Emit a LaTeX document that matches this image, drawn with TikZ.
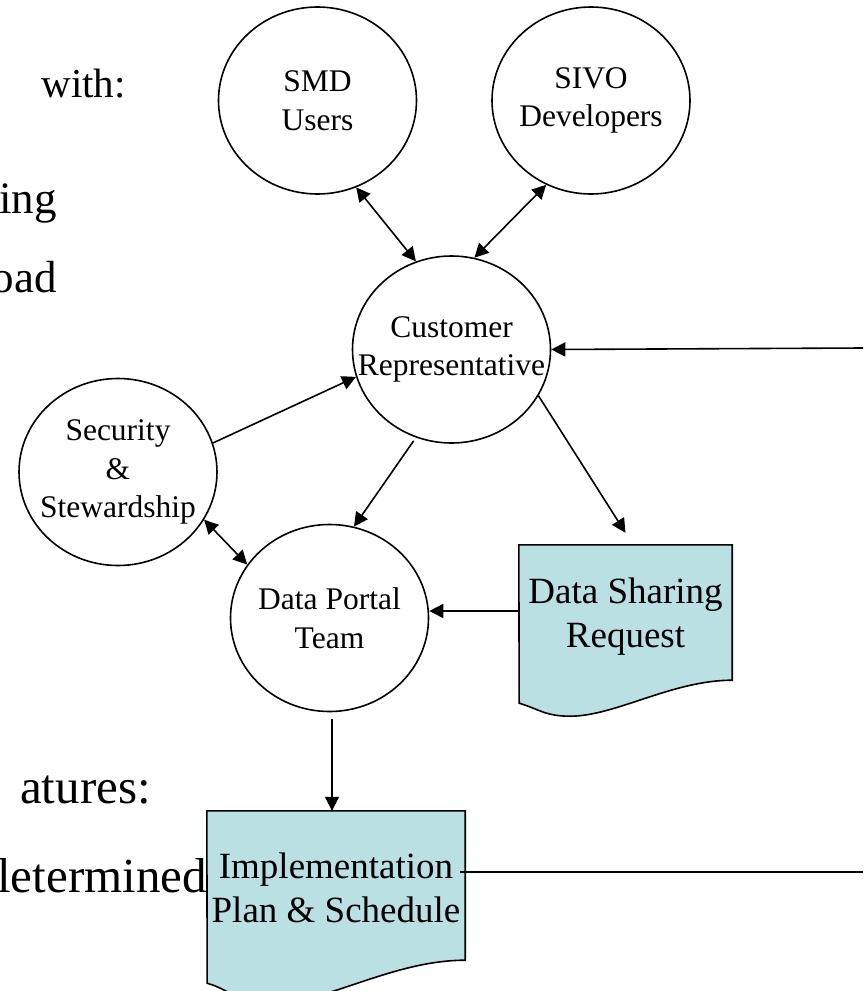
\documentclass[tikz,border=0pt]{standalone}
\usepackage{fontspec}
\setmainfont{Liberation Serif}
\usetikzlibrary{arrows.meta,shapes.geometric,calc}
\definecolor{docfill}{RGB}{187,224,227}
\tikzset{
  bub/.style={ellipse, draw, line width=1.6pt, minimum width=198pt, minimum height=187pt, inner sep=0pt},
  btext/.style={align=center, inner sep=0pt, font=\fontsize{31.5}{38.5}\selectfont},
  docbox/.style={rectangle, draw=none, inner sep=0pt, align=center, font=\fontsize{37}{44}\selectfont},
  docshape/.style={draw, fill=docfill, line width=1.6pt},
  conn/.style={line width=1.6pt, -{Triangle[length=14pt,width=14pt]}},
  biconn/.style={line width=1.6pt, {Triangle[length=14pt,width=14pt]}-{Triangle[length=14pt,width=14pt]}},
  plainline/.style={line width=1.6pt},
  slide/.style={inner sep=0pt, font=\fontsize{45}{52}\selectfont},
  slidebig/.style={inner sep=0pt, font=\fontsize{49}{56}\selectfont},
  slidesmall/.style={inner sep=0pt, font=\fontsize{41}{48}\selectfont},
}
\begin{document}
\begin{tikzpicture}[x=1pt,y=-1pt]
\useasboundingbox (0,0) rectangle (863,991);
\clip (0,0) rectangle (863,991);

% cut-off slide text on the left
\node[slidesmall, anchor=base east] (t1) at (126,97) {with:};
\node[slide, anchor=base east] (t2) at (57,213) {ing};
\node[slide, anchor=base east] (t3) at (57,292) {oad};
\node[slidebig, anchor=base east] (t4) at (151,803) {atures:};
\node[slidebig, anchor=base east] (t5) at (207,892) {letermined};

% bubbles
\node[bub] (smd) at (317.5,100.5) {};
\node[btext] (smdt) at (smd) {SMD\\Users};
\node[bub] (sivo) at (591,100.5) {};
\node[btext] (sivot) at (sivo) {SIVO\\Developers};
\node[bub] (cr) at (451.5,349.5) {};
\node[btext] (crt) at (cr) {Customer\\Representative};
\node[bub] (sec) at (118,472) {};
\node[btext] (sect) at (sec) {Security\\\&\\Stewardship};
\node[bub] (dp) at (329.5,618) {};
\node[btext] (dpt) at (dp) {Data Portal\\Team};

% documents
\node[docbox, minimum width=213pt, minimum height=135pt] (dsr) at (625.5,612.5) {};
\draw[docshape] (dsr.north west) -- (dsr.north east) -- (dsr.south east)
  .. controls +(-60,0) and +(45,0) .. ++(-162,36)
  .. controls +(-25,0) and +(20,6) .. ++(-51,-13) -- cycle;
\node[docbox] (dsrt) at ($(dsr)+(0,4)$) {Data Sharing\\Request};

\node[docbox, minimum width=258pt, minimum height=149pt] (impl) at (336,885.5) {};
\draw[docshape] (impl.north west) -- (impl.north east) -- (impl.south east)
  .. controls +(-73,0) and +(55,0) .. ++(-196,44)
  .. controls +(-30,0) and +(24,7) .. ++(-62,-21) -- cycle;
\node[docbox] (implt) at ($(impl)+(0,2)$) {Implementation\\Plan \& Schedule};

% free ends at the right edge
\coordinate (r1) at (863,348);
\coordinate (r2) at (863,872);

% connectors
\draw[biconn] (smd.-66.5) -- (cr.112.4);
\draw[biconn] (sivo.-118.3) -- (cr.76.4);
\draw[conn] (sec.17.4) -- (cr.196.5);
\draw[biconn] (sec.-29.5) -- (dp.147);
\draw[conn, shorten <=4pt] (cr.-112.7) -- (dp.75);
\draw[conn] (cr.-28) -- ($(dsr.north)+(0,-12)$);
\draw[conn] ($(dsr.west)+(0,-1.5)$) -- ($(dsr.west -| dp.east)+(0,-1.5)$);
\draw[conn] ($(dp.south)+(2.5,7)$) -- ($(dp.south |- impl.north)+(2.5,0)$);
\draw[conn] (r1) -- (cr.east);
\draw[plainline] ($(impl.east)+(-5,-13.5)$) -- (r2);
\end{tikzpicture}
\end{document}
